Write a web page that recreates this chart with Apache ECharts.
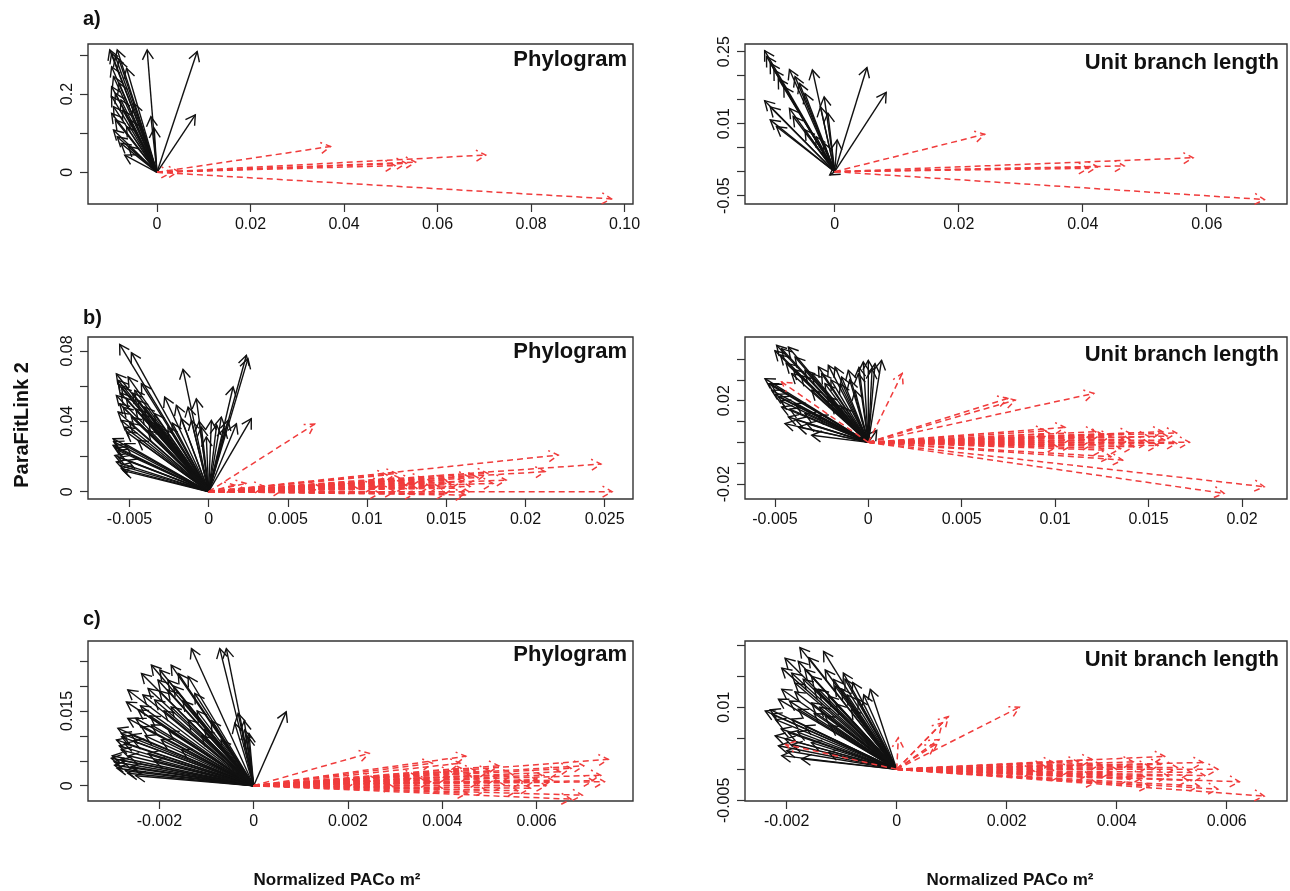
<!DOCTYPE html>
<html><head><meta charset="utf-8">
<script src="https://cdn.jsdelivr.net/npm/echarts@6/dist/echarts.min.js"></script>
<style>html,body{margin:0;padding:0;background:#fff}#c{width:1290px;height:891px}</style>
</head><body><div id="c"></div><script>
// ---------- data (arrow tips; every arrow starts at the origin) ----------
const phyloA_black = [[-0.0101,0.313],[-0.0097,0.304],[-0.0089,0.296],[-0.0081,0.287],[-0.0065,0.266],[-0.0097,0.270],[-0.0093,0.245],[-0.0097,0.219],[-0.0097,0.194],[-0.0093,0.168],[-0.0097,0.151],[-0.0089,0.134],[-0.0093,0.108],[-0.0085,0.091],[-0.0077,0.074],[-0.0069,0.044],[-0.0089,0.202],[-0.0081,0.228],[-0.0077,0.185],[-0.0073,0.159],[-0.0065,0.117],[-0.0061,0.066],[-0.0021,0.313],[-0.0013,0.142],[-0.0006,0.113],[0.0086,0.309],[0.0082,0.147],[-0.0049,0.176],[-0.0057,0.134],[-0.0085,0.313]];
const phyloA_red = [[0.0371,0.066],[0.0703,0.044],[0.0553,0.026],[0.0533,0.023],[0.0509,0.017],[0.0972,-0.068],[0.0046,0.002],[0.0030,-0.001]];
const unitA_black = [[-0.0113,0.252],[-0.0110,0.240],[-0.0104,0.226],[-0.0098,0.212],[-0.0091,0.194],[-0.0073,0.213],[-0.0064,0.198],[-0.0057,0.184],[-0.0036,0.212],[-0.0048,0.163],[-0.0113,0.148],[-0.0104,0.135],[-0.0104,0.108],[-0.0094,0.094],[-0.0073,0.132],[-0.0017,0.156],[-0.0023,0.135],[-0.0048,0.087],[-0.0030,0.073],[-0.0011,0.122],[0.0004,0.066],[0.0052,0.217],[0.0083,0.165],[-0.0082,0.177],[-0.0067,0.115],[-0.0017,0.059],[-0.0008,-0.007]];
const unitA_red = [[0.0242,0.078],[0.0578,0.029],[0.0467,0.012],[0.0424,0.010],[0.0409,0.007],[0.0693,-0.058]];
const phyloB_black = [[-0.00562,0.0837],[-0.00488,0.0790],[-0.00162,0.0695],[0.00238,0.0775],[0.00248,0.0756],[-0.00583,0.0670],[-0.00572,0.0633],[-0.00551,0.0595],[-0.00583,0.0547],[-0.00562,0.0500],[-0.00572,0.0453],[-0.00551,0.0405],[-0.00530,0.0367],[-0.00467,0.0576],[-0.00446,0.0519],[-0.00404,0.0481],[-0.00341,0.0443],[-0.00488,0.0424],[-0.00604,0.0301],[-0.00604,0.0263],[-0.00593,0.0206],[-0.00583,0.0169],[-0.00551,0.0131],[-0.00572,0.0235],[-0.00530,0.0273],[-0.00204,0.0491],[-0.00078,0.0528],[-0.00173,0.0415],[-0.00109,0.0405],[-0.00046,0.0367],[0.00017,0.0405],[0.00080,0.0424],[0.00122,0.0405],[0.00175,0.0386],[0.00269,0.0415],[0.00154,0.0595],[-0.00015,0.0311],[-0.00257,0.0367],[-0.00383,0.0348],[-0.00278,0.0538],[-0.00509,0.0652],[-0.00425,0.0614],[-0.00341,0.0386],[-0.00446,0.0292],[-0.00509,0.0178],[-0.00130,0.0481],
  [-0.00600,0.0285],[-0.00590,0.0250],[-0.00570,0.0195],[-0.00560,0.0150],[-0.00540,0.0120],[-0.00520,0.0340],[-0.00500,0.0390],[-0.00540,0.0480],[-0.00520,0.0530],[-0.00480,0.0560],[-0.00460,0.0470],[-0.00420,0.0440],[-0.00380,0.0400],[-0.00300,0.0360],[-0.00230,0.0390],[-0.00060,0.0400],[0.00050,0.0380],[0.00100,0.0360],[-0.00570,0.0610],[-0.00555,0.0560]];
const phyloB_red = [[0.00669,0.0384],[0.02207,0.0208],[0.02477,0.0157],[0.02124,0.0114],[0.02547,0.0],[0.01796,0.0047],[0.01643,0.0085],[0.01643,0.0],[0.01620,-0.0019],[0.01185,0.0104],[0.01127,0.0095],[0.01455,0.0028],[0.01315,0.0019],[0.01174,0.0],[0.01080,-0.0009],[0.01526,0.0047],[0.00235,0.0047],[0.00164,0.0038],[0.01878,0.0066],[0.01408,0.0057],[0.00704,0.0028],[0.00939,0.0019],[0.00469,0.0009],[0.01291,0.0066],[0.01761,0.0104],
  [0.0120,0.0080],[0.0135,0.0075],[0.0150,0.0065],[0.0160,0.0060],[0.0110,0.0050],[0.0125,0.0035],[0.0140,0.0030],[0.0155,0.0020],[0.0165,0.0030],[0.0170,0.0080],[0.0105,0.0030],[0.0150,-0.0010],[0.0130,-0.0012],[0.0035,0.0030]];
const unitB_black = [[-0.00491,0.0466],[-0.00464,0.0450],[-0.00428,0.0458],[-0.00392,0.0410],[-0.00553,0.0306],[-0.00535,0.0282],[-0.00517,0.0250],[-0.00481,0.0218],[-0.00464,0.0170],[-0.00428,0.0122],[-0.00374,0.0074],[-0.00303,0.0034],[-0.00410,0.0330],[-0.00339,0.0346],[-0.00267,0.0362],[-0.00214,0.0370],[-0.00178,0.0362],[-0.00143,0.0314],[-0.00107,0.0346],[-0.00027,0.0386],[0.0,0.0394],[0.00036,0.0378],[0.00071,0.0394],[-0.00053,0.0330],[-0.00303,0.0250],[-0.00232,0.0282],[-0.00196,0.0186],[-0.00339,0.0138],[-0.00446,0.0090],[-0.00143,0.0170],[-0.00392,0.0186],[-0.00071,0.0250],[0.00045,0.0058],
  [-0.00500,0.0440],[-0.00470,0.0420],[-0.00440,0.0380],[-0.00400,0.0350],[-0.00360,0.0320],[-0.00300,0.0330],[-0.00250,0.0330],[-0.00200,0.0300],[-0.00150,0.0280],[-0.00100,0.0300],[-0.00050,0.0360],[0.00020,0.0350],[-0.00520,0.0280],[-0.00500,0.0230],[-0.00470,0.0200],[-0.00420,0.0160],[-0.00390,0.0110],[-0.00330,0.0090],[-0.00270,0.0130],[-0.00220,0.0220]];
const unitB_red = [[0.00182,0.0331],[0.01207,0.0235],[0.00787,0.0203],[0.00746,0.0211],[0.01053,0.0072],[0.01217,0.0051],[0.01576,0.0051],[0.01719,0.0],[0.01586,0.0011],[0.01422,-0.0021],[0.01361,-0.0085],[0.01299,-0.0069],[0.02119,-0.0213],[0.01904,-0.0245],[0.01094,-0.0013],[0.00971,0.0043],[0.01197,0.0011],[0.01504,0.0027],[-0.00464,0.0290],[0.01402,0.0043],[0.01258,-0.0037],[0.01012,-0.0021],
  [0.0160,0.0030],[0.0150,0.0000],[0.0140,0.0015],[0.0130,0.0030],[0.0120,-0.0010],[0.0110,0.0025],[0.0165,-0.0005],[0.0155,-0.0015],[0.0135,-0.0030],[0.0125,0.0040],[0.0095,0.0055],[0.0165,0.0045]];
const phyloC_black = [[-0.00132,0.0275],[-0.00072,0.0275],[-0.00058,0.0275],[-0.00217,0.0242],[-0.00175,0.0242],[-0.00238,0.0225],[-0.00199,0.0232],[-0.00160,0.0225],[-0.00139,0.0219],[-0.00267,0.0192],[-0.00270,0.0168],[-0.00224,0.0195],[-0.00182,0.0192],[-0.00125,0.0185],[-0.00267,0.0135],[-0.00288,0.0115],[-0.00291,0.0092],[-0.00302,0.0055],[-0.00295,0.0041],[-0.00267,0.0025],[-0.00281,0.0072],[-0.00260,0.0102],[-0.00238,0.0118],[-0.00217,0.0122],[-0.00245,0.0152],[-0.00210,0.0172],[-0.00033,0.0145],[-0.00019,0.0112],[-0.00012,0.0098],[0.00069,0.0148],[-0.00175,0.0158],[-0.00139,0.0132],[-0.00196,0.0092],[-0.00153,0.0072],[-0.00224,0.0065],[-0.00281,0.0051],[-0.00260,0.0038],[-0.00104,0.0112],[-0.00069,0.0092],[-0.00182,0.0212],[-0.00203,0.0212],[-0.00235,0.0182],[-0.00040,0.0125],[-0.00281,0.0105],[-0.00274,0.0085],
  [-0.00300,0.0060],[-0.00296,0.0048],[-0.00290,0.0035],[-0.00285,0.0080],[-0.00280,0.0098],[-0.00272,0.0030],[-0.00265,0.0060],[-0.00255,0.0090],[-0.00250,0.0135],[-0.00240,0.0160],[-0.00230,0.0100],[-0.00220,0.0140],[-0.00200,0.0190],[-0.00190,0.0150],[-0.00170,0.0200],[-0.00150,0.0170],[-0.00120,0.0150],[-0.00210,0.0050],[-0.00180,0.0110],[-0.00110,0.0100],[-0.00090,0.0130],[-0.00250,0.0020],[-0.00020,0.0130],[-0.00010,0.0105]];
const phyloC_red = [[0.00245,0.0065],[0.00450,0.0059],[0.00438,0.0045],[0.00379,0.0045],[0.00752,0.0053],[0.00673,0.0035],[0.00736,0.0021],[0.00744,0.0008],[0.00697,-0.0019],[0.00673,-0.0027],[0.00469,0.0031],[0.00571,0.0008],[0.00587,-0.0005],[0.00453,-0.0015],[0.00375,0.0008],[0.00296,-0.0002],[0.00516,0.0015],[0.00414,0.0018],[0.00218,0.0008],[0.00634,0.0011],[0.00343,0.0021],[0.00532,0.0001],[0.00257,0.0015],[0.00611,0.0021],[0.00493,-0.0009],
  [0.00420,0.0028],[0.00460,0.0020],[0.00500,0.0030],[0.00550,0.0022],[0.00600,0.0012],[0.00650,0.0028],[0.00700,0.0040],[0.00560,-0.0010],[0.00480,0.0008],[0.00400,-0.0005],[0.00360,0.0012],[0.00620,0.0000],[0.00720,0.0010],[0.00520,0.0040],[0.00440,0.0035]];
const unitC_black = [[-0.00176,0.0196],[-0.00133,0.0190],[-0.00203,0.0179],[-0.00179,0.0174],[-0.00209,0.0163],[-0.00191,0.0155],[-0.00167,0.0161],[-0.00155,0.0150],[-0.00097,0.0155],[-0.00094,0.0145],[-0.00048,0.0129],[-0.00209,0.0129],[-0.00215,0.0113],[-0.00239,0.0094],[-0.00227,0.0089],[-0.00221,0.0054],[-0.00215,0.0038],[-0.00209,0.0022],[-0.00191,0.0081],[-0.00179,0.0097],[-0.00155,0.0107],[-0.00124,0.0118],[-0.00112,0.0134],[-0.00142,0.0129],[-0.00167,0.0070],[-0.00130,0.0086],[-0.00197,0.0059],[-0.00082,0.0097],[-0.00155,0.0043],[-0.00124,0.0027],[-0.00173,0.0017],[-0.00203,0.0049],[-0.00100,0.0129],[-0.00070,0.0113],[-0.00185,0.0139],
  [-0.00230,0.0096],[-0.00220,0.0080],[-0.00210,0.0065],[-0.00200,0.0030],[-0.00195,0.0110],[-0.00185,0.0125],[-0.00170,0.0145],[-0.00160,0.0180],[-0.00150,0.0130],[-0.00140,0.0100],[-0.00120,0.0070],[-0.00110,0.0105],[-0.00090,0.0120],[-0.00080,0.0140],[-0.00060,0.0120],[-0.00190,0.0040],[-0.00180,0.0060],[-0.00150,0.0090],[-0.00130,0.0160],[-0.00115,0.0145]];
const unitC_red = [[0.00223,0.0100],[0.00094,0.0085],[0.00083,0.0075],[0.00077,0.0048],[0.00003,0.0051],[0.00070,0.0040],[-0.00202,0.0040],[0.00487,0.0021],[0.00557,0.0011],[0.00536,-0.0005],[0.00623,-0.0020],[0.00668,-0.0043],[0.00584,-0.0032],[0.00550,-0.0027],[0.00355,0.0016],[0.00459,0.0005],[0.00390,-0.0005],[0.00320,0.0],[0.00494,-0.0011],[0.00285,0.0011],[0.00424,-0.0016],[0.00584,0.0],[0.00250,-0.0003],[0.00362,-0.0021],[0.00459,-0.0027],
  [0.00330,0.0012],[0.00350,-0.0008],[0.00370,0.0008],[0.00400,0.0000],[0.00430,0.0012],[0.00450,-0.0012],[0.00480,0.0008],[0.00510,0.0003],[0.00530,-0.0018],[0.00270,0.0005],[0.00300,-0.0010],[0.00560,-0.0010]];

// ---------- tick values and labels ----------
const phyloA_xTicks = [0,0.02,0.04,0.06,0.08,0.10];
const phyloA_xLabels = ["0","0.02","0.04","0.06","0.08","0.10"];
const phyloA_yTicks = [0,0.1,0.2,0.3];
const phyloA_yLabelVals = [0,0.2];
const phyloA_yLabels = ["0","0.2"];
const unitA_xTicks = [0,0.02,0.04,0.06];
const unitA_xLabels = ["0","0.02","0.04","0.06"];
const unitA_yTicks = [-0.05,0,0.05,0.10,0.15,0.20,0.25];
const unitA_yLabelVals = [-0.05,0.10,0.25];
const unitA_yLabels = ["-0.05","0.01","0.25"];
const phyloB_xTicks = [-0.005,0,0.005,0.01,0.015,0.02,0.025];
const phyloB_xLabels = ["-0.005","0","0.005","0.01","0.015","0.02","0.025"];
const phyloB_yTicks = [0,0.02,0.04,0.06,0.08];
const phyloB_yLabelVals = [0,0.04,0.08];
const phyloB_yLabels = ["0","0.04","0.08"];
const unitB_xTicks = [-0.005,0,0.005,0.01,0.015,0.02];
const unitB_xLabels = ["-0.005","0","0.005","0.01","0.015","0.02"];
const unitB_yTicks = [-0.02,-0.01,0,0.01,0.02,0.03,0.04];
const unitB_yLabelVals = [-0.02,0.02];
const unitB_yLabels = ["-0.02","0.02"];
const phyloC_xTicks = [-0.002,0,0.002,0.004,0.006];
const phyloC_xLabels = ["-0.002","0","0.002","0.004","0.006"];
const phyloC_yTicks = [0,0.005,0.01,0.015,0.02,0.025];
const phyloC_yLabelVals = [0,0.015];
const phyloC_yLabels = ["0","0.015"];
const unitC_xTicks = [-0.002,0,0.002,0.004,0.006];
const unitC_xLabels = ["-0.002","0","0.002","0.004","0.006"];
const unitC_yTicks = [-0.005,0,0.005,0.01,0.015,0.02];
const unitC_yLabelVals = [-0.005,0.01];
const unitC_yLabels = ["-0.005","0.01"];

// ---------- layout ----------
const FONT = "'Liberation Sans', Arial, Helvetica, sans-serif";
const panels = [
  {grid:{left:88,top:44,width:545,height:160}, xr:[-0.01475,0.1018], yr:[-0.0811,0.3281], xt:phyloA_xTicks, xl:phyloA_xLabels, yt:phyloA_yTicks, yv:phyloA_yLabelVals, yl:phyloA_yLabels, black:phyloA_black, red:phyloA_red},
  {grid:{left:745,top:44,width:542,height:160}, xr:[-0.01447,0.07295], yr:[-0.0673,0.2660], xt:unitA_xTicks, xl:unitA_xLabels, yt:unitA_yTicks, yv:unitA_yLabelVals, yl:unitA_yLabels, black:unitA_black, red:unitA_red},
  {grid:{left:88,top:337,width:545,height:162}, xr:[-0.00762,0.02679], yr:[-0.00415,0.0879], xt:phyloB_xTicks, xl:phyloB_xLabels, yt:phyloB_yTicks, yv:phyloB_yLabelVals, yl:phyloB_yLabels, black:phyloB_black, red:phyloB_red},
  {grid:{left:745,top:337,width:542,height:162}, xr:[-0.00660,0.02241], yr:[-0.0272,0.0506], xt:unitB_xTicks, xl:unitB_xLabels, yt:unitB_yTicks, yv:unitB_yLabelVals, yl:unitB_yLabels, black:unitB_black, red:unitB_red},
  {grid:{left:88,top:641,width:545,height:160}, xr:[-0.003514,0.008045], yr:[-0.003068,0.02902], xt:phyloC_xTicks, xl:phyloC_xLabels, yt:phyloC_yTicks, yv:phyloC_yLabelVals, yl:phyloC_yLabels, black:phyloC_black, red:phyloC_red},
  {grid:{left:745,top:641,width:542,height:160}, xr:[-0.002758,0.007096], yr:[-0.00510,0.02067], xt:unitC_xTicks, xl:unitC_xLabels, yt:unitC_yTicks, yv:unitC_yLabelVals, yl:unitC_yLabels, black:unitC_black, red:unitC_red}
];

function fmt(vals, texts){
  return function(v){ for (let i=0;i<vals.length;i++){ if (Math.abs(v-vals[i])<1e-9) return texts[i]; } return ''; };
}
function arrowRender(color, dashed, width){
  return function(params, api){
    const p0 = api.coord([0,0]);
    const p1 = api.coord([api.value(0), api.value(1)]);
    const ang = Math.atan2(p1[1]-p0[1], p1[0]-p0[0]);
    const L = 11, a = Math.PI/6;
    const h1 = [p1[0]-L*Math.cos(ang-a), p1[1]-L*Math.sin(ang-a)];
    const h2 = [p1[0]-L*Math.cos(ang+a), p1[1]-L*Math.sin(ang+a)];
    const style = {stroke:color, lineWidth:width, fill:null, lineDash: dashed ? [6,4] : null};
    return {type:'group', children:[
      {type:'line', shape:{x1:p0[0],y1:p0[1],x2:p1[0],y2:p1[1]}, style:style},
      {type:'polyline', shape:{points:[h1,p1,h2]}, style:style}
    ]};
  };
}

const grids=[], xAxes=[], yAxes=[], series=[];
panels.forEach(function(p,i){
  grids.push(Object.assign({show:true, borderColor:'#333', borderWidth:1.4, backgroundColor:'transparent'}, p.grid));
  xAxes.push({gridIndex:i, type:'value', position:'bottom', min:p.xr[0], max:p.xr[1],
    axisLine:{show:false, onZero:false}, splitLine:{show:false},
    axisTick:{show:true, customValues:p.xt, length:8, lineStyle:{color:'#333', width:1.2}},
    axisLabel:{customValues:p.xt, formatter:fmt(p.xt,p.xl), margin:13, fontSize:16, color:'#111', fontFamily:FONT}});
  yAxes.push({gridIndex:i, type:'value', position:'left', min:p.yr[0], max:p.yr[1],
    axisLine:{show:false, onZero:false}, splitLine:{show:false},
    axisTick:{show:true, customValues:p.yt, length:8, lineStyle:{color:'#333', width:1.2}},
    axisLabel:{customValues:p.yv, formatter:fmt(p.yv,p.yl), rotate:90, margin:12, fontSize:16, color:'#111', fontFamily:FONT}});
  series.push({type:'custom', xAxisIndex:i, yAxisIndex:i, data:p.black, encode:{x:0,y:1}, renderItem:arrowRender('#111', false, 1.4), silent:true});
  series.push({type:'custom', xAxisIndex:i, yAxisIndex:i, data:p.red, encode:{x:0,y:1}, renderItem:arrowRender('#f03c3c', true, 1.5), silent:true});
});

function txt(x,y,s,size,align,rot){
  return {type:'text', x:x, y:y, rotation:rot||0, style:{text:s, font:'bold '+size+'px '+FONT, fill:'#111', align:align||'left', verticalAlign:'middle'}};
}
const graphics = [
  txt(83,19,'a)',20), txt(83,318,'b)',20), txt(83,619,'c)',20),
  txt(627,60,'Phylogram',22,'right'), txt(627,352,'Phylogram',22,'right'), txt(627,655,'Phylogram',22,'right'),
  txt(1279,63,'Unit branch length',22,'right'), txt(1279,355,'Unit branch length',22,'right'), txt(1279,660,'Unit branch length',22,'right'),
  txt(22,425,'ParaFitLink 2',20,'center',Math.PI/2),
  txt(337,880,'Normalized PACo m\u00B2',17,'center'), txt(1010,880,'Normalized PACo m\u00B2',17,'center')
];

const chart = echarts.init(document.getElementById('c'), null, {renderer:'canvas'});
chart.setOption({animation:false, backgroundColor:'#fff', grid:grids, xAxis:xAxes, yAxis:yAxes, series:series, graphic:graphics});
</script></body></html>
